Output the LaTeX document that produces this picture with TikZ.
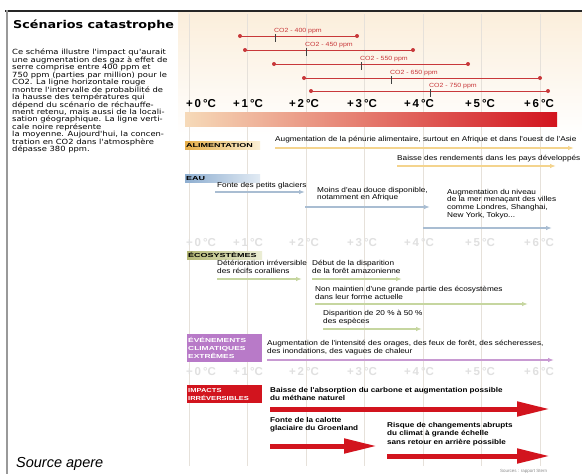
\documentclass[tikz,border=0pt]{standalone}
\usepackage{fontspec}
\setmainfont{Liberation Sans}
\newfontfamily\panelfont[FakeStretch=1.18]{DejaVu Sans}
\newfontfamily\rowfont[FakeStretch=1.16]{Liberation Sans}
\usetikzlibrary{arrows.meta,positioning,calc}
\definecolor{aperouge}{HTML}{D2141E}
\definecolor{apeligne}{HTML}{C8383A}
\definecolor{apecreme}{HTML}{FBEEDB}
\definecolor{barpale}{HTML}{F6DAB8}
\definecolor{barorange}{HTML}{E8905A}
\definecolor{alimdark}{HTML}{E6AE4A}
\definecolor{alimlight}{HTML}{FCF0D6}
\definecolor{alimline}{HTML}{F4D48E}
\definecolor{eaudark}{HTML}{8EAED0}
\definecolor{eaulight}{HTML}{E2EBF4}
\definecolor{eauline}{HTML}{A9BDD2}
\definecolor{ecodark}{HTML}{B4B874}
\definecolor{ecolight}{HTML}{ECEED6}
\definecolor{ecoline}{HTML}{C6D6A0}
\definecolor{evtbox}{HTML}{B87AC8}
\definecolor{evtline}{HTML}{C89AD2}
\definecolor{gridgray}{HTML}{E6E1DA}
\newcommand{\ancho}[2][1.55]{\scalebox{#1}[1]{#2}}

\begin{document}
\begin{tikzpicture}[x=1pt, y=-1pt, font=\rowfont\fontsize{7.1}{7.6}\selectfont,
    tlabel/.style={font=\fontsize{11.5}{11.5}\selectfont\bfseries, inner sep=0pt},
    ghost/.style={tlabel, text=black!12},
    rowtext/.style={inner sep=0pt, anchor=north west, align=left},
    irrtext/.style={rowtext, font=\rowfont\fontsize{7}{8.5}\selectfont\bfseries},
    catbox/.style={anchor=north west, text width=73, minimum height=8.5, inner sep=1pt,
                   align=left, font=\fontsize{5.8}{7.8}\selectfont\bfseries},
    ppmlabel/.style={inner sep=0pt, text=apeligne, font=\rowfont\fontsize{6}{6}\selectfont},
    thinarrow/.style={line width=1.3pt, -{Latex[length=6pt,width=4.5pt]}},
    bigarrow/.style={line width=5pt, aperouge, -{Triangle[length=33pt,width=14pt]}}]

%%% ---------- CADRE ----------
\useasboundingbox (0,0) rectangle (582,474);
\fill[white] (0,0) rectangle (582,474);
\shade[top color=apecreme, bottom color=white] (178,12) rectangle (582,135);
\draw[black!85, line width=2pt] (5,10.5) -- (582,10.5);
\draw[black!40, line width=1.2pt] (7,10) -- (7,474);

% Lignes verticales
\foreach \k in {0,...,6}
    \draw[gridgray, line width=0.6pt] (189+58.5*\k,14) -- (189+58.5*\k,466);

% Texte de gauche
\node[anchor=west, inner sep=0pt, font=\panelfont\bfseries\fontsize{10.8}{11}\selectfont]
    (titre) at (13,25) {Scénarios catastrophe};
\node[anchor=north west, inner sep=0pt, align=left, font=\panelfont\fontsize{7.1}{7.45}\selectfont]
    (intro) at (12,49) {Ce schéma illustre l'impact qu'aurait\\
    une augmentation des gaz à effet de\\
    serre comprise entre 400 ppm et\\
    750 ppm (parties par million) pour le\\
    CO2. La ligne horizontale rouge\\
    montre l'intervalle de probabilité de\\
    la hausse des températures qui\\
    dépend du scénario de réchauffe-\\
    ment retenu, mais aussi de la locali-\\
    sation géographique. La ligne verti-\\
    cale noire représente\\
    la moyenne. Aujourd'hui, la concen-\\
    tration en CO2 dans l'atmosphère\\
    dépasse 380 ppm.};
\node[anchor=west, inner sep=0pt, font=\itshape\fontsize{14.5}{15}\selectfont]
    (source) at (16,464) {Source apere};
\node[anchor=west, inner sep=0pt, text=black!45, font=\fontsize{4.5}{5}\selectfont]
    (credit) at (500,471) {Sources : rapport Stern};

%%% ---------- SCENARIOS CO2 ----------
\def\escenario#1#2#3#4#5{
    \draw[apeligne, line width=0.8pt] (#2,#1) -- (#3,#1);
    \fill[apeligne] (#2,#1) circle (2pt) (#3,#1) circle (2pt);
    \draw[black!75, line width=0.9pt] (#4,#1-2) -- (#4,#1+6);
    \node[ppmlabel, anchor=south west] (ppm#5) at (#4-1,#1-2) {CO2 - #5 ppm};
}
\escenario{36}{240}{357}{275}{400}
\escenario{50}{245}{413}{306}{450}
\escenario{64}{274}{468}{361}{550}
\escenario{78}{304}{540}{391}{650}
\escenario{91}{311}{548}{430}{750}

% Echelle des temperatures
\foreach \x [count=\k from 0] in {201,248,304,362,419,480,539} {
    \node[tlabel] (t\k) at (\x,104) {+\,\k\,°C};
    \node[ghost] (g\k) at (\x,243) {+\,\k\,°C};
    \node[ghost] (h\k) at (\x,372) {+\,\k\,°C};
}
\shade[left color=barpale, middle color=barorange, right color=aperouge] (185,112) rectangle (557,126);

%%% ---------- IMPACTS ----------
\def\fleche#1#2#3#4#5{
    \coordinate (#1a) at (#3,#2);
    \coordinate (#1b) at (#4,#2);
    \draw[#5] (#1a) -- (#1b);
}

% Alimentation
\node[catbox, left color=alimdark, right color=alimlight] (alim) at (185,141) {\ancho{ALIMENTATION}};
\node[rowtext] (alim1) at (275,136) {Augmentation de la pénurie alimentaire, surtout en Afrique et dans l'ouest de l'Asie};
\fleche{alimA}{148}{275}{574}{thinarrow, alimline}
\node[rowtext] (alim2) at (397,155) {Baisse des rendements dans les pays développés};
\fleche{alimB}{166}{397}{556}{thinarrow, alimline}

% Eau
\node[catbox, left color=eaudark, right color=eaulight] (eau) at (185,174) {\ancho{EAU}};
\node[rowtext] (eau1) at (217,182) {Fonte des petits glaciers};
\fleche{eauA}{192}{215}{305}{thinarrow, eauline}
\node[rowtext] (eau2) at (317,187) {Moins d'eau douce disponible,\\notamment en Afrique};
\fleche{eauB}{207}{305}{430}{thinarrow, eauline}
\node[rowtext] (eau3) at (447,189) {Augmentation du niveau\\de la mer menaçant des villes\\comme Londres, Shanghai,\\New York, Tokyo...};
\fleche{eauC}{228}{423}{552}{thinarrow, eauline}

% Ecosystemes
\node[catbox, left color=ecodark, right color=ecolight] (eco) at (187,251) {\ancho{ÉCOSYSTÈMES}};
\node[rowtext] (eco1) at (217,260) {Détérioration irréversible\\des récifs coralliens};
\fleche{ecoA}{279}{217}{302}{thinarrow, ecoline}
\node[rowtext] (eco2) at (312,260) {Début de la disparition\\de la forêt amazonienne};
\fleche{ecoB}{279}{312}{402}{thinarrow, ecoline}
\node[rowtext] (eco3) at (315,286) {Non maintien d'une grande partie des écosystèmes\\dans leur forme actuelle};
\fleche{ecoC}{304}{315}{528}{thinarrow, ecoline}
\node[rowtext] (eco4) at (323,310) {Disparition de 20 \% à 50 \%\\des espèces};
\fleche{ecoD}{329}{323}{422}{thinarrow, ecoline}

% Evenements extremes
\node[catbox, fill=evtbox, text=white, minimum height=28] (evt) at (187,334)
    {\ancho[1.45]{ÉVÉNEMENTS}\\\ancho[1.45]{CLIMATIQUES}\\\ancho[1.45]{EXTRÊMES}};
\node[rowtext] (evt1) at (267,340) {Augmentation de l'intensité des orages, des feux de forêt, des sécheresses,\\des inondations, des vagues de chaleur};
\fleche{evtA}{360}{267}{554}{thinarrow, evtline}

% Impacts irreversibles
\node[catbox, fill=aperouge, text=white, minimum height=18] (irr) at (187,385)
    {\ancho[1.3]{IMPACTS}\\\ancho[1.3]{IRRÉVERSIBLES}};
\node[irrtext] (irr1) at (270,387) {Baisse de l'absorption du carbone et augmentation possible\\du méthane naturel};
\fleche{irrA}{409}{270}{550}{bigarrow}
\node[irrtext] (irr2) at (270,417) {Fonte de la calotte\\glaciaire du Groenland};
\fleche{irrB}{446}{270}{377}{bigarrow}
\node[irrtext] (irr3) at (387,422) {Risque de changements abrupts\\du climat à grande échelle\\sans retour en arrière possible};
\fleche{irrC}{456}{387}{550}{bigarrow}

\end{tikzpicture}
\end{document}
